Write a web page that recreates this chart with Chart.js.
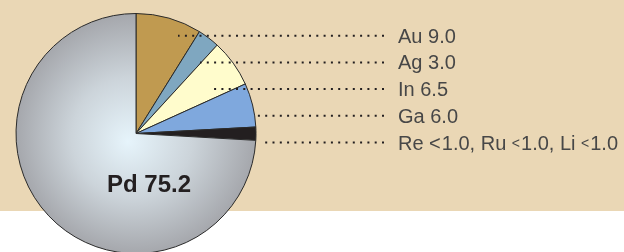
<!DOCTYPE html>
<html>
<head>
<meta charset="utf-8">
<script src="https://cdn.jsdelivr.net/npm/chart.js@4.4.0/dist/chart.umd.min.js"></script>
<style>
  html, body { margin: 0; padding: 0; width: 624px; height: 252px; overflow: hidden; background: #fff; }
  #pie { display: block; background: linear-gradient(to bottom, #ead7b5 0, #ead7b5 211px, #fff 211px); }
</style>
</head>
<body>
<canvas id="pie" width="624" height="260"></canvas>
<script>
// composition (wt %), clockwise from 12 o'clock
const elements = ['Au', 'Ag', 'In', 'Ga', 'Re, Ru, Li', 'Pd'];
const values = [9.0, 3.0, 6.5, 6.0, 1.8, 75.2];
const labels = ['Au 9.0', 'Ag 3.0', 'In 6.5', 'Ga 6.0', 'Re <1.0, Ru <1.0, Li <1.0', 'Pd 75.2'];
const colours = ['#c09a50', '#7fa7c0', '#fffccc', '#7fa8dd', '#231f20', null];

// where each dotted leader starts, relative to the pie centre
const leaderStart = [42, 64, 77, 121, 124];

function pdFill(ctx) {
  const a = ctx.chart.chartArea;
  if (!a) return '#c4c9ce';
  const cx = (a.left + a.right) / 2, cy = (a.top + a.bottom) / 2;
  const r = Math.min(a.right - a.left, a.bottom - a.top) / 2;
  const g = ctx.chart.ctx.createRadialGradient(cx - 8, cy + 8, 0, cx, cy, r);
  g.addColorStop(0, '#e6f4fb');
  g.addColorStop(0.5, '#ccd4da');
  g.addColorStop(1, '#a5a7ac');
  return g;
}

const leaderPlugin = {
  id: 'leaders',
  afterDraw(chart) {
    const c = chart.ctx;
    const arcs = chart.getDatasetMeta(0).data;
    const cx = arcs[0].x, cy = arcs[0].y;
    const endX = 384, textX = 398;
    c.save();
    for (let i = 0; i < labels.length - 1; i++) {
      const y = 35.7 + i * 26.7;
      // dots drawn right to left so every line ends on a dot
      c.strokeStyle = '#231f20';
      c.lineWidth = 2;
      c.setLineDash([2, 5.3]);
      c.beginPath();
      c.moveTo(endX, y);
      c.lineTo(cx + leaderStart[i], y);
      c.stroke();

      c.fillStyle = '#474747';
      c.textBaseline = 'alphabetic';
      c.textAlign = 'left';
      const parts = labels[i].split('<');
      let x = textX;
      parts.forEach((p, k) => {
        if (k === 1) {
          c.font = '20px "Liberation Sans"';
          c.fillText('<', x, y + 7);
          x += c.measureText('<').width + 1;
        } else if (k > 1) {
          // later "<" signs are set small in the original
          c.font = '14px "Liberation Sans"';
          c.fillText('<', x, y + 5);
          x += c.measureText('<').width + 1;
        }
        c.font = '20px "Liberation Sans"';
        c.fillText(p, x, y + 7);
        x += c.measureText(p).width;
      });
    }
    // Pd label inside its slice
    c.fillStyle = '#231f20';
    c.font = 'bold 24px "Liberation Sans"';
    c.textAlign = 'center';
    c.fillText(labels[5], cx + 13, cy + 58);
    c.restore();
  }
};

new Chart(document.getElementById('pie'), {
  type: 'pie',
  data: {
    labels: elements,
    datasets: [{
      data: values,
      backgroundColor: ctx => colours[ctx.dataIndex] || pdFill(ctx),
      borderColor: '#2a2a2a',
      borderWidth: 1
    }]
  },
  options: {
    responsive: false,
    animation: false,
    devicePixelRatio: 1,
    layout: { padding: { left: 15, top: 13, right: 367, bottom: 6 } },
    plugins: { legend: { display: false }, tooltip: { enabled: false } }
  },
  plugins: [leaderPlugin]
});
</script>
</body>
</html>
